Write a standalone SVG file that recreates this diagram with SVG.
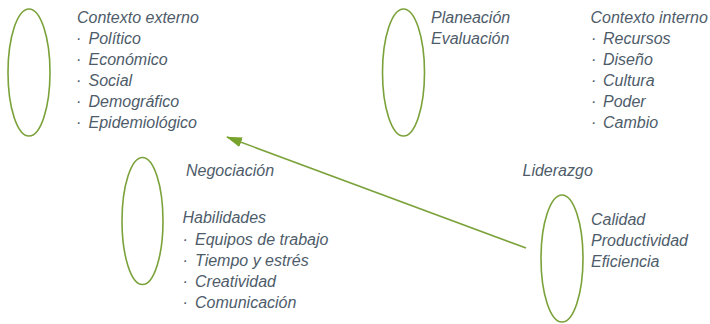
<svg xmlns="http://www.w3.org/2000/svg" width="710" height="324" viewBox="0 0 710 324">
<defs>
<style>
.oval{fill:none;stroke:#7ba23a;stroke-width:1.6}
text{font-family:"Liberation Sans",Arial,sans-serif;font-style:italic;font-size:16px;fill:#4e5c6a}
.conn{fill:none;stroke:#7ba23a;stroke-width:1.6}
</style>
<marker id="ah" markerWidth="16" markerHeight="10" refX="15" refY="5" orient="auto" markerUnits="userSpaceOnUse">
<path d="M0,0 L16,5 L0,10 Z" fill="#77a22c"/>
</marker>
</defs>
<rect width="710" height="324" fill="#ffffff"/>
<g id="connectors">
<line class="conn" x1="526" y1="248" x2="227" y2="137" marker-end="url(#ah)"/>
</g>
<g id="externo">
<ellipse class="oval" cx="29" cy="72.5" rx="21" ry="63.5"/>
<text x="77" y="23">Contexto externo</text>
<text y="44"><tspan x="76">·</tspan><tspan x="88.5">Político</tspan></text>
<text y="65"><tspan x="76">·</tspan><tspan x="88.5">Económico</tspan></text>
<text y="86"><tspan x="76">·</tspan><tspan x="88.5">Social</tspan></text>
<text y="107"><tspan x="76">·</tspan><tspan x="88.5">Demográfico</tspan></text>
<text y="128"><tspan x="76">·</tspan><tspan x="88.5">Epidemiológico</tspan></text>
</g>
<g id="planeacion">
<ellipse class="oval" cx="403.5" cy="72.5" rx="21" ry="63.5"/>
<text x="431" y="23">Planeación</text>
<text x="431" y="44">Evaluación</text>
</g>
<g id="interno">
<text x="590.5" y="23">Contexto interno</text>
<text y="44"><tspan x="591">·</tspan><tspan x="603">Recursos</tspan></text>
<text y="65"><tspan x="591">·</tspan><tspan x="603">Diseño</tspan></text>
<text y="86"><tspan x="591">·</tspan><tspan x="603">Cultura</tspan></text>
<text y="107"><tspan x="591">·</tspan><tspan x="603">Poder</tspan></text>
<text y="128"><tspan x="591">·</tspan><tspan x="603">Cambio</tspan></text>
</g>
<g id="negociacion">
<ellipse class="oval" cx="142.5" cy="221" rx="20.5" ry="63.5"/>
<text x="186" y="176">Negociación</text>
<text x="182.5" y="223">Habilidades</text>
<text y="245"><tspan x="182.5">·</tspan><tspan x="195">Equipos de trabajo</tspan></text>
<text y="266"><tspan x="182.5">·</tspan><tspan x="195">Tiempo y estrés</tspan></text>
<text y="287"><tspan x="182.5">·</tspan><tspan x="195">Creatividad</tspan></text>
<text y="308"><tspan x="182.5">·</tspan><tspan x="195">Comunicación</tspan></text>
</g>
<g id="liderazgo">
<text x="522.5" y="176">Liderazgo</text>
</g>
<g id="calidad">
<ellipse class="oval" cx="562" cy="258.5" rx="21" ry="63.5"/>
<text x="591" y="225">Calidad</text>
<text x="591" y="246">Productividad</text>
<text x="591" y="267">Eficiencia</text>
</g>
</svg>
